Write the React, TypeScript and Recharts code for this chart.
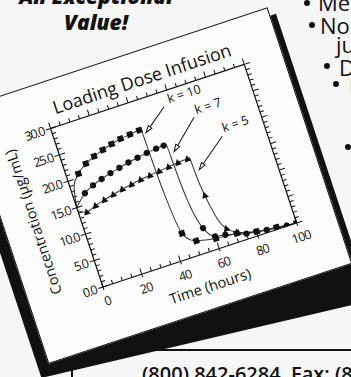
import { Label, Line, LineChart, ReferenceDot, ReferenceLine, XAxis, YAxis } from "recharts";

const TIME_TICKS = [0, 5, 10, 15, 20, 25, 30, 35, 40, 45, 50, 55, 60, 65, 70, 75, 80, 85, 90, 95, 100];
const CONC_TICKS = Array.from({ length: 31 }, (_, i) => i);

const K10_CURVE = [
  { t: 0, c: 15 }, { t: 2, c: 18.8 }, { t: 6, c: 20.7 }, { t: 11, c: 22 }, { t: 16, c: 22.8 },
  { t: 21, c: 23.4 }, { t: 26, c: 23.9 }, { t: 31, c: 24.3 }, { t: 36, c: 24.5 }, { t: 41, c: 24.7 },
  { t: 42, c: 24.7 }, { t: 42.3, c: 19 }, { t: 43, c: 11.5 }, { t: 45, c: 4.7 }, { t: 48, c: 3.1 },
  { t: 52, c: 2.5 }, { t: 60, c: 1.9 }, { t: 70, c: 1.6 }, { t: 80, c: 0.8 }, { t: 90, c: 0.4 }, { t: 100, c: 0 },
];
const K10_MARKS = [
  { t: 6, c: 20.7 }, { t: 11, c: 22 }, { t: 16, c: 22.8 }, { t: 21, c: 23.4 }, { t: 26, c: 23.9 },
  { t: 31, c: 24.3 }, { t: 36, c: 24.5 }, { t: 41, c: 24.7 }, { t: 45, c: 4.7 }, { t: 50.5, c: 2.6 },
  { t: 60, c: 1.9 }, { t: 70.5, c: 1.6 }, { t: 80, c: 0.8 }, { t: 90, c: 0.4 }, { t: 100, c: 0 },
];

const K7_CURVE = [
  { t: 0, c: 15 }, { t: 6, c: 17 }, { t: 11, c: 17.9 }, { t: 16, c: 18.5 }, { t: 21, c: 19 },
  { t: 26, c: 19.4 }, { t: 31, c: 19.8 }, { t: 36, c: 20.1 }, { t: 41, c: 20.4 }, { t: 46, c: 20.6 },
  { t: 50, c: 20.7 }, { t: 51.5, c: 20.7 }, { t: 51.8, c: 16 }, { t: 52.8, c: 9.5 }, { t: 55.6, c: 4.4 },
  { t: 60, c: 2.3 }, { t: 65, c: 2 }, { t: 75, c: 1 }, { t: 85, c: 0.5 }, { t: 95, c: 0.1 }, { t: 100, c: 0 },
];
const K7_MARKS = [
  { t: 6, c: 17 }, { t: 11, c: 17.9 }, { t: 16, c: 18.5 }, { t: 21, c: 19 }, { t: 26, c: 19.4 },
  { t: 31, c: 19.8 }, { t: 36, c: 20.1 }, { t: 41, c: 20.4 }, { t: 46, c: 20.6 }, { t: 50, c: 20.7 },
  { t: 55.6, c: 4.4 }, { t: 60, c: 2.3 }, { t: 65, c: 2 }, { t: 75, c: 1 }, { t: 85, c: 0.5 }, { t: 95, c: 0.1 },
];

const K5_CURVE = [
  { t: 0, c: 14.5 }, { t: 4, c: 13.7 }, { t: 9, c: 14.3 }, { t: 14, c: 14.8 }, { t: 19, c: 15.2 },
  { t: 24, c: 15.6 }, { t: 29, c: 15.9 }, { t: 34, c: 16.2 }, { t: 39, c: 16.4 }, { t: 44, c: 16.6 },
  { t: 49, c: 16.8 }, { t: 54, c: 17 }, { t: 59, c: 17.1 }, { t: 60.2, c: 17.1 }, { t: 60.5, c: 14 },
  { t: 61.5, c: 9.9 }, { t: 63.5, c: 5.5 }, { t: 66.4, c: 3 }, { t: 71, c: 1.8 }, { t: 80, c: 0.8 }, { t: 100, c: 0 },
];
const K5_MARKS = [
  { t: 4, c: 13.7 }, { t: 9, c: 14.3 }, { t: 14, c: 14.8 }, { t: 19, c: 15.2 }, { t: 24, c: 15.6 },
  { t: 29, c: 15.9 }, { t: 34, c: 16.2 }, { t: 39, c: 16.4 }, { t: 44, c: 16.6 }, { t: 49, c: 16.8 },
  { t: 54, c: 17 }, { t: 59, c: 17.1 }, { t: 61.5, c: 9.9 }, { t: 66.4, c: 3 }, { t: 71, c: 1.8 },
  { t: 80, c: 0.8 }, { t: 90, c: 0.35 },
];

const K_NOTES = [
  { text: "k = 10", lx: 59, ly: 27.6, x1: 56.2, y1: 27.3, x2: 43.8, y2: 23.9 },
  { text: "k = 7", lx: 70, ly: 24.2, x1: 68.5, y1: 23.8, x2: 54, y2: 19.1 },
  { text: "k = 5", lx: 80, ly: 19.6, x1: 78.7, y1: 19, x2: 62.9, y2: 14.6 },
];

const PLOT_W = 204;
const PLOT_H = 167;
const M = { top: 30, right: 20, left: 0, bottom: 0 };
const Y_W = 70;
const X_H = 50;
const FONT = "'Open Sans', 'DejaVu Sans', sans-serif";
const INK = "#111";

function TimeTick({ x, y, payload }: any) {
  const v = payload.value;
  const major = v % 20 === 0;
  const len = major ? 6 : 4;
  return (
    <g stroke={INK} strokeWidth={1}>
      <line x1={x} y1={y} x2={x} y2={y - len} />
      {major && <line x1={x} y1={y} x2={x} y2={y + 3} />}
      <line x1={x} y1={y - PLOT_H} x2={x} y2={y - PLOT_H - len} />
      {major && (
        <text x={x} y={y + 19} textAnchor="middle" stroke="none" fill={INK} fontSize={12.5} fontFamily={FONT} letterSpacing={-0.8}>
          {v}
        </text>
      )}
    </g>
  );
}

function ConcTick({ x, y, payload }: any) {
  const v = payload.value;
  const major = v % 5 === 0;
  const len = major ? 6 : 4;
  return (
    <g stroke={INK} strokeWidth={1}>
      <line x1={x} y1={y} x2={x + len} y2={y} />
      {major && <line x1={x} y1={y} x2={x - 5} y2={y} />}
      <line x1={x + PLOT_W} y1={y} x2={x + PLOT_W + len} y2={y} />
      {major && (
        <text x={x - 7} y={y + 4.5} textAnchor="end" stroke="none" fill={INK} fontSize={12.5} fontFamily={FONT} letterSpacing={-1.2}>
          {v.toFixed(1)}
        </text>
      )}
    </g>
  );
}

function Square({ cx, cy }: any) {
  return <rect x={cx - 3} y={cy - 3} width={6} height={6} fill={INK} />;
}
function Circle({ cx, cy }: any) {
  return <circle cx={cx} cy={cy} r={3.1} fill={INK} />;
}
function Tri({ cx, cy }: any) {
  return <polygon points={`${cx},${cy - 3.8} ${cx + 3.5},${cy + 2.6} ${cx - 3.5},${cy + 2.6}`} fill={INK} />;
}

function Arrow({ x1, y1, x2, y2 }: any) {
  const a = Math.atan2(y2 - y1, x2 - x1);
  const L = 7;
  const w = 2.2;
  const bx = x2 - L * Math.cos(a);
  const by = y2 - L * Math.sin(a);
  const px = -Math.sin(a) * w;
  const py = Math.cos(a) * w;
  return (
    <g>
      <line x1={x1} y1={y1} x2={bx} y2={by} stroke={INK} strokeWidth={1} />
      <polygon points={`${x2},${y2} ${bx + px},${by + py} ${bx - px},${by - py}`} fill="#fff" stroke={INK} strokeWidth={1} />
    </g>
  );
}

function Chart() {
  return (
    <LineChart
      width={Y_W + PLOT_W + M.right}
      height={M.top + PLOT_H + X_H}
      margin={M}
      style={{ position: "absolute", left: -Y_W, top: -PLOT_H - M.top }}
    >
      <XAxis
        dataKey="t"
        type="number"
        domain={[0, 100]}
        ticks={TIME_TICKS}
        interval={0}
        height={X_H}
        tickSize={0}
        tickMargin={0}
        tickLine={false}
        tick={<TimeTick />}
        axisLine={{ stroke: INK, strokeWidth: 1.2 }}
        allowDataOverflow
      >
        <Label
          content={({ viewBox }: any) => (
            <text x={viewBox.x + viewBox.width / 2} y={viewBox.y + 38} textAnchor="middle" fill={INK} fontSize={14.5} fontFamily={FONT}>
              Time (hours)
            </text>
          )}
        />
      </XAxis>
      <YAxis
        type="number"
        domain={[0, 30]}
        ticks={CONC_TICKS}
        interval={0}
        width={Y_W}
        tickSize={0}
        tickMargin={0}
        tickLine={false}
        tick={<ConcTick />}
        axisLine={{ stroke: INK, strokeWidth: 1.2 }}
        allowDataOverflow
      >
        <Label
          content={({ viewBox }: any) => {
            const cx = viewBox.x + viewBox.width - 46;
            const cy = viewBox.y + viewBox.height / 2;
            return (
              <text x={cx} y={cy} transform={`rotate(-90 ${cx} ${cy})`} textAnchor="middle" dominantBaseline="central" fill={INK} fontSize={14.5} fontFamily={FONT}>
                Concentration (µg/mL)
              </text>
            );
          }}
        />
      </YAxis>
      <ReferenceLine y={30} stroke={INK} strokeWidth={1.2} />
      <ReferenceLine x={100} stroke={INK} strokeWidth={1.2} />

      <Line data={K10_CURVE} dataKey="c" type="monotone" stroke="#333" strokeWidth={1} dot={false} isAnimationActive={false} />
      <Line data={K7_CURVE} dataKey="c" type="monotone" stroke="#333" strokeWidth={1} dot={false} isAnimationActive={false} />
      <Line data={K5_CURVE} dataKey="c" type="monotone" stroke="#333" strokeWidth={1} dot={false} isAnimationActive={false} />
      <Line data={K10_MARKS} dataKey="c" stroke="none" dot={<Square />} isAnimationActive={false} />
      <Line data={K7_MARKS} dataKey="c" stroke="none" dot={<Circle />} isAnimationActive={false} />
      <Line data={K5_MARKS} dataKey="c" stroke="none" dot={<Tri />} isAnimationActive={false} />

      {K_NOTES.map((n) => (
        <ReferenceLine
          key={n.text + "a"}
          segment={[{ x: n.x1, y: n.y1 }, { x: n.x2, y: n.y2 }]}
          shape={(p: any) => <Arrow {...p} />}
        />
      ))}
      {K_NOTES.map((n) => (
        <ReferenceDot
          key={n.text}
          x={n.lx}
          y={n.ly}
          r={0}
          shape={({ cx, cy }: any) => (
            <text x={cx} y={cy} fill={INK} fontSize={12.5} fontFamily={FONT}>
              {n.text}
            </text>
          )}
        />
      ))}
    </LineChart>
  );
}

const dot = (x: number, y: number) => (
  <div style={{ position: "absolute", left: x - 3, top: y - 3, width: 6, height: 6, borderRadius: 3, background: INK }} />
);
const word = (x: number, baseline: number, s: string) => (
  <div style={{ position: "absolute", left: x, top: baseline - 23.5, fontSize: 22, lineHeight: "30px", whiteSpace: "nowrap" }}>{s}</div>
);

export default function App() {
  return (
    <div style={{ position: "fixed", left: 0, top: 0, width: 351, height: 377, overflow: "hidden", background: "#f6f6f6", fontFamily: FONT, color: INK }}>
      <div style={{ position: "absolute", left: 0, top: -17, width: 192, textAlign: "center", fontWeight: 800, fontStyle: "italic", fontSize: 21, lineHeight: "26px" }}>
        An Exceptional
        <br />
        Value!
      </div>
      {dot(307, 3)}
      {word(318, 10, "Mem")}
      {dot(312, 25)}
      {word(320, 33, "No")}
      {word(336, 52, "ju")}
      {dot(327, 66)}
      {word(339, 75, "D")}
      {dot(336, 84)}
      {word(349, 93, "I")}
      {dot(348, 147)}

      <div style={{ position: "absolute", left: 133, top: 349, width: 230, height: 2, background: INK }} />
      <div style={{ position: "absolute", left: 71, top: 362, width: 2, height: 20, background: INK }} />
      <div style={{ position: "absolute", left: 142, top: 360, fontSize: 20, fontWeight: 600, lineHeight: "27px", whiteSpace: "pre" }}>
        {"(800) 842-6284  Fax: (800) 842-6285"}
      </div>

      <div style={{ position: "absolute", left: 103, top: 287, width: 0, height: 0, transform: "rotate(-18.3deg)", transformOrigin: "0 0" }}>
        <svg width={1} height={1} style={{ position: "absolute", left: 0, top: 0, overflow: "visible" }}>
          <polygon points="-87,-205 -87,67 250,97 250,-205" fill={INK} />
        </svg>
        <div style={{ position: "absolute", left: -76, top: -214, width: 320, height: 270, border: "1px solid #111", background: "#fdfdfd", boxSizing: "border-box" }} />
        <div style={{ position: "absolute", left: 9, top: -196, fontSize: 18, whiteSpace: "nowrap", lineHeight: "20px" }}>
          Loading Dose Infusion
        </div>
        <Chart />
      </div>
    </div>
  );
}
